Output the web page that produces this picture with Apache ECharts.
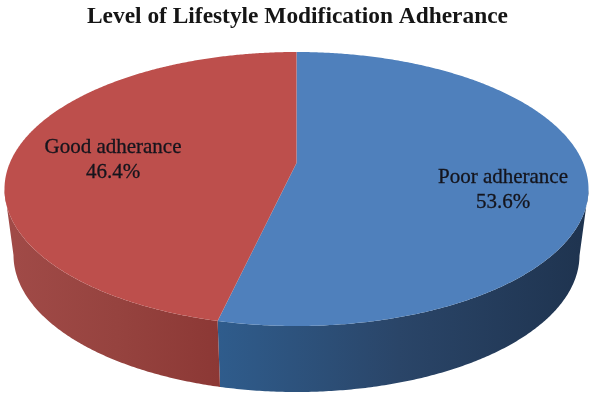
<!DOCTYPE html>
<html>
<head>
<meta charset="utf-8">
<style>html,body{margin:0;padding:0;background:#fff}#c{width:607px;height:407px}</style>
<script src="https://cdn.jsdelivr.net/npm/echarts@6/dist/echarts.min.js"></script>
</head>
<body>
<div id="c"></div>
<script>
const titleText = 'Level of Lifestyle Modification Adherance';
const categories = ['Poor adherance', 'Good adherance'];
const values = [53.6, 46.4];

const total = values.reduce((a, b) => a + b, 0);
const TOP = {cx: 296.5, cy: 189, rx: 292, ry: 137};
const BOTTOM = {cx: 296.5, cy: 255, rx: 283, ry: 137};
const E = 0.19; // perspective shift of the pie centre
const STYLE = [
  {top: '#4f80bc', wall: ['#2f5c8c', '#2a4568', '#1f3450'], x0: 219, x1: 580, labelX: 503, labelY: 190},
  {top: '#bd4f4c', wall: ['#a04a47', '#96433f', '#8c3835'], x0: 14, x1: 219, labelX: 113, labelY: 160}
];
function proj(a) {
  const u = Math.sin(a), v = Math.cos(a), d = 1 + E * v;
  return [u * Math.sqrt(1 - E * E) / d, (v + E) / d];
}
function onEllipse(p, el) { return [el.cx + p[0] * el.rx, el.cy - p[1] * el.ry]; }

function renderItem(params, api) {
  const i = params.dataIndex;
  const s = STYLE[i];
  let before = 0;
  for (let k = 0; k < i; k++) before += values[k];
  const a0 = before / total * 2 * Math.PI;
  const a1 = (before + api.value(0)) / total * 2 * Math.PI;
  const N = 400;
  const topPts = [[TOP.cx, TOP.cy - E * TOP.ry]];
  const wallTop = [], wallBottom = [];
  for (let n = 0; n <= N; n++) {
    const a = a0 + (a1 - a0) * n / N;
    const p = proj(a);
    topPts.push(onEllipse(p, TOP));
    if (p[1] <= 0) {
      wallTop.push(onEllipse(p, TOP));
      wallBottom.push(onEllipse(p, BOTTOM));
    }
  }
  const wall = wallTop.concat(wallBottom.reverse());
  return {
    type: 'group',
    children: [
      {
        type: 'polygon', shape: {points: wall}, z2: 1,
        style: {fill: {type: 'linear', global: true, x: s.x0, y: 0, x2: s.x1, y2: 0,
          colorStops: [{offset: 0, color: s.wall[0]}, {offset: 0.5, color: s.wall[1]}, {offset: 1, color: s.wall[2]}]}}
      },
      {type: 'polygon', shape: {points: topPts}, z2: 2, style: {fill: s.top}},
      {
        type: 'text', z2: 3, x: s.labelX, y: s.labelY,
        style: {
          text: categories[i] + '\n' + api.value(0).toFixed(1) + '%',
          fill: '#14141c', font: '21px "Liberation Serif"', lineHeight: 25,
          stroke: '#14141c', lineWidth: 0.3,
          align: 'center', verticalAlign: 'middle'
        }
      }
    ]
  };
}

const chart = echarts.init(document.getElementById('c'), null, {renderer: 'canvas'});
chart.setOption({
  animation: false,
  backgroundColor: '#fff',
  title: {
    text: titleText, left: 82, top: 0,
    textStyle: {fontFamily: 'Liberation Serif', fontWeight: 'bold', fontSize: 23.4, color: '#151515'}
  },
  series: [{
    type: 'custom', coordinateSystem: 'none', silent: true,
    renderItem,
    data: values.map((v, i) => ({name: categories[i], value: [v]}))
  }]
});
</script>
</body>
</html>
